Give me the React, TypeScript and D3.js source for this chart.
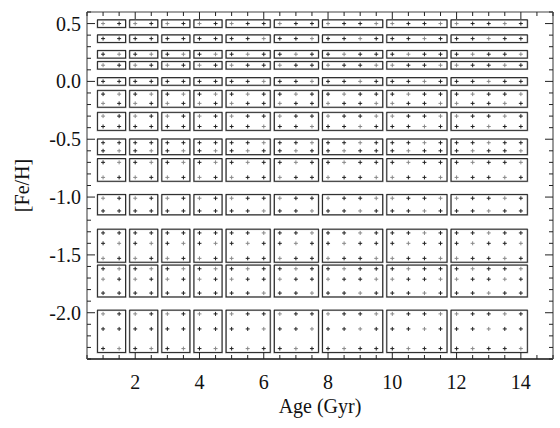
import React from "react";
import { scaleLinear } from "d3";

// ages (Gyr) grouped into the boxes they share
const ageGroups: number[][] = [
  [1.0, 1.5],
  [2.0, 2.5],
  [3.0, 3.5],
  [4.0, 4.5],
  [5.0, 5.5, 6.0],
  [6.5, 7.0, 7.5],
  [8.0, 8.5, 9.0, 9.5],
  [10.0, 10.5, 11.0, 11.5],
  [12.0, 12.5, 13.0, 13.5, 14.0],
];

// [Fe/H] grouped the same way
const fehGroups: number[][] = [
  [0.5],
  [0.37],
  [0.235],
  [0.14],
  [0.0],
  [-0.11, -0.19],
  [-0.3, -0.39],
  [-0.53, -0.6],
  [-0.7, -0.83],
  [-1.01, -1.12],
  [-1.31, -1.4, -1.53],
  [-1.62, -1.71, -1.83],
  [-2.01, -2.14, -2.31],
];

const xTickValues = [2, 4, 6, 8, 10, 12, 14];
const yTickValues = [-2.0, -1.5, -1.0, -0.5, 0.0, 0.5];

const width = 560;
const height = 428;
const margin = { top: 12, right: 7, bottom: 69, left: 87 };
const font = "'Liberation Serif', 'Times New Roman', serif";

const App = () => {
  const x = scaleLinear().domain([0.5, 15]).range([margin.left, width - margin.right]);
  const y = scaleLinear().domain([-2.4, 0.6]).range([height - margin.bottom, margin.top]);

  const x0 = margin.left;
  const x1 = width - margin.right;
  const y0 = margin.top;
  const y1 = height - margin.bottom;

  const xMinor = x.ticks(29);
  const yMinor = y.ticks(30);

  const boxes: JSX.Element[] = [];
  const marks: JSX.Element[] = [];
  ageGroups.forEach((ag, i) => {
    fehGroups.forEach((fg, j) => {
      const bx = x(ag[0] - 0.17);
      const bw = x(ag[ag.length - 1] + 0.2) - bx;
      const by = y(fg[0] + 0.033);
      const bh = y(fg[fg.length - 1] - 0.033) - by;
      boxes.push(
        <g key={`b${i}-${j}`}>
          <rect x={bx - 0.5} y={by + 0.5} width={bw + 1} height={bh} fill="none" stroke="#a8a8a8" strokeWidth={1} />
          <rect x={bx} y={by} width={bw} height={bh} fill="none" stroke="#222" strokeWidth={1} />
        </g>
      );
      ag.forEach((a, k) => {
        fg.forEach((f, l) => {
          const cx = x(a);
          const cy = y(f);
          marks.push(
            <path
              key={`m${i}-${j}-${k}-${l}`}
              d={`M${cx - 2},${cy}H${cx + 2}M${cx},${cy - 2}V${cy + 2}`}
              stroke={(k + l + j) % 3 === 0 ? "#888" : "#222"}
              strokeWidth={1}
            />
          );
        });
      });
    });
  });

  return (
    <div style={{ position: "absolute", left: 0, top: 0 }}>
      <svg width={width} height={height} style={{ display: "block", background: "#fff" }}>
        {boxes}
        {marks}

        {/* frame */}
        <line x1={x0} x2={x1} y1={y0} y2={y0} stroke="#444" strokeWidth={1.2} />
        <line x1={x0} x2={x1} y1={y1} y2={y1} stroke="#111" strokeWidth={1.4} />
        <line x1={x0} x2={x0} y1={y0} y2={y1} stroke="#999" strokeWidth={2} />
        <line x1={x1} x2={x1} y1={y0} y2={y1} stroke="#999" strokeWidth={2} />

        {/* x ticks */}
        {xMinor.map((t) => {
          const major = xTickValues.includes(t);
          const len = major ? 7 : 4;
          return (
            <g key={`xt${t}`} stroke="#222" strokeWidth={1}>
              <line x1={x(t)} x2={x(t)} y1={y1} y2={y1 - len} />
              <line x1={x(t)} x2={x(t)} y1={y0} y2={y0 + len} />
            </g>
          );
        })}
        {/* y ticks */}
        {yMinor.map((t) => {
          const major = yTickValues.some((v) => Math.abs(v - t) < 1e-6);
          const len = major ? 8 : 4;
          return (
            <g key={`yt${t}`} stroke="#222" strokeWidth={1}>
              <line x1={x0} x2={x0 + len} y1={y(t)} y2={y(t)} />
              <line x1={x1} x2={x1 - len} y1={y(t)} y2={y(t)} />
            </g>
          );
        })}

        {xTickValues.map((t) => (
          <text key={`xl${t}`} x={x(t)} y={y1 + 30} textAnchor="middle" fontFamily={font} fontSize={20} fill="#111">
            {t}
          </text>
        ))}
        {yTickValues.map((t) => (
          <text key={`yl${t}`} x={x0 - 6} y={y(t) + 7} textAnchor="end" fontFamily={font} fontSize={20} fill="#111">
            {t.toFixed(1)}
          </text>
        ))}

        <text x={(x0 + x1) / 2} y={413} textAnchor="middle" fontFamily={font} fontSize={20} fill="#111">
          Age (Gyr)
        </text>
        <text
          transform={`translate(29,${(y0 + y1) / 2}) rotate(-90)`}
          textAnchor="middle"
          fontFamily={font}
          fontSize={20}
          fill="#111"
        >
          [Fe/H]
        </text>
      </svg>
    </div>
  );
};

export default App;
